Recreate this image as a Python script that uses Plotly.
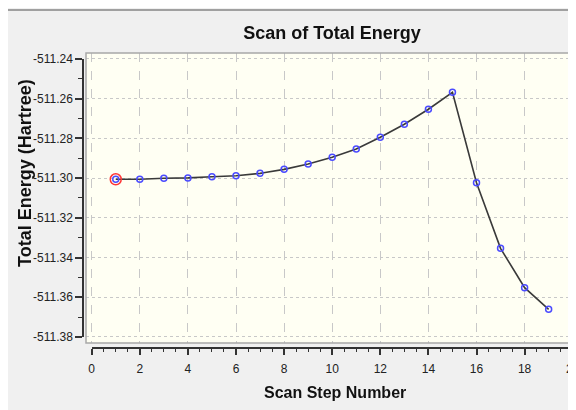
import plotly.graph_objects as go

# ---- data ----
steps = list(range(1, 20))
energy = [-511.3006, -511.3006, -511.3001, -511.2999, -511.2993, -511.2988,
          -511.2976, -511.2956, -511.2929, -511.2895, -511.2853, -511.2794,
          -511.2729, -511.2653, -511.2568, -511.3023, -511.3354, -511.3552,
          -511.3661]
xtick_vals = list(range(0, 21, 2))
xtick_text = [str(v) for v in xtick_vals]
ytick_vals = [-511.24, -511.26, -511.28, -511.30, -511.32, -511.34, -511.36, -511.38]
ytick_text = ["-511.24", "-511.26", "-511.28", "-511.30", "-511.32", "-511.34", "-511.36", "-511.38"]

W, H = 576, 410
SANS = "Liberation Sans, Arial, sans-serif"
AXC = "#333333"

fig = go.Figure()
# invisible trace that carries the detached tick axes (drawn first, underneath)
fig.add_trace(go.Scatter(
    x=steps, y=energy, mode="markers", opacity=0, hoverinfo="skip",
    showlegend=False, xaxis="x", yaxis="y"))
# data on the cream plotting frame
fig.add_trace(go.Scatter(
    x=steps, y=energy, mode="lines+markers",
    line=dict(color="#3a3a3a", width=1.6),
    marker=dict(symbol="circle-open", size=6, color="#4b4bff", line=dict(width=1.5)),
    showlegend=False, xaxis="x2", yaxis="y2"))
fig.add_trace(go.Scatter(
    x=steps[:1], y=energy[:1], mode="markers",
    marker=dict(symbol="circle-open", size=11, color="#ff3535", line=dict(width=1.5)),
    showlegend=False, xaxis="x2", yaxis="y2"))

fig.update_layout(
    width=W, height=H, autosize=False,
    margin=dict(l=0, r=0, t=0, b=0, pad=0),
    paper_bgcolor="#f0f0f0", plot_bgcolor="#fffff3",
    title=dict(text="Scan of Total Energy", x=324 / W, xanchor="center",
               y=1 - 25 / H, yanchor="middle", xref="container", yref="container",
               automargin=False,
               font=dict(family=SANS, size=18, color="#111111", weight="bold")),
    # detached tick axes
    xaxis=dict(domain=[83.7 / W, 564.7 / W], range=[0, 20],
               anchor="free", position=70 / H, side="bottom", automargin=False,
               showline=True, linecolor=AXC, linewidth=1.5,
               ticks="outside", ticklen=6, tickwidth=1.5, tickcolor=AXC,
               tickmode="array", tickvals=xtick_vals, ticktext=xtick_text,
               minor=dict(ticks="outside", ticklen=3, tickwidth=1.2, tickcolor=AXC,
                          tickmode="linear", tick0=0, dtick=0.5, showgrid=False),
               ticklabelstandoff=4,
               tickfont=dict(family=SANS, size=12, color="#222222"),
               showgrid=False, zeroline=False, fixedrange=True),
    yaxis=dict(domain=[81.1 / H, 359 / H], range=[-511.38, -511.24],
               anchor="free", position=75 / W, side="left", automargin=False,
               showline=True, linecolor=AXC, linewidth=1.5,
               ticks="outside", ticklen=7, tickwidth=1.5, tickcolor=AXC,
               tickmode="array", tickvals=ytick_vals, ticktext=ytick_text,
               minor=dict(ticks="outside", ticklen=4, tickwidth=1.2, tickcolor=AXC,
                          tickmode="linear", tick0=-511.24, dtick=0.01, showgrid=False),
               tickfont=dict(family=SANS, size=12, color="#222222"),
               showgrid=False, zeroline=False, fixedrange=True),
    # cream plotting frame with grid
    xaxis2=dict(domain=[78 / W, 1], range=[-0.237, 20.47], anchor="y2",
                tickmode="linear", tick0=0, dtick=2, automargin=False,
                showgrid=True, gridcolor="#c8c8c8", griddash="dash", gridwidth=1,
                showticklabels=False, ticks="", zeroline=False, showline=False,
                fixedrange=True),
    yaxis2=dict(domain=[75 / H, 365 / H], range=[-511.38307, -511.23698], anchor="x2",
                tickmode="array", tickvals=ytick_vals, automargin=False,
                showgrid=True, gridcolor="#c8c8c8", griddash="dot", gridwidth=1,
                showticklabels=False, ticks="", zeroline=False, showline=False,
                fixedrange=True),
    annotations=[
        dict(text="Scan Step Number", xref="paper", yref="paper",
             x=327 / W, y=1 - 384 / H, xanchor="center", yanchor="middle",
             showarrow=False,
             font=dict(family=SANS, size=16, color="#111111", weight="bold")),
        dict(text="Total Energy (Hartree)", xref="paper", yref="paper",
             x=17 / W, y=1 - 165 / H, xanchor="center", yanchor="middle",
             textangle=-90, showarrow=False,
             font=dict(family=SANS, size=18, color="#111111", weight="bold")),
    ],
    shapes=[
        dict(type="line", xref="paper", yref="paper", x0=0, x1=1,
             y0=1 - 2 / H, y1=1 - 2 / H, line=dict(color="#a0a0a0", width=2)),
        dict(type="rect", xref="x2 domain", yref="y2 domain", x0=0, x1=1.02, y0=0, y1=1,
             line=dict(color="#a8a8a8", width=1.5), fillcolor="rgba(0,0,0,0)", layer="above"),
    ],
)

fig.write_html("out.html")
